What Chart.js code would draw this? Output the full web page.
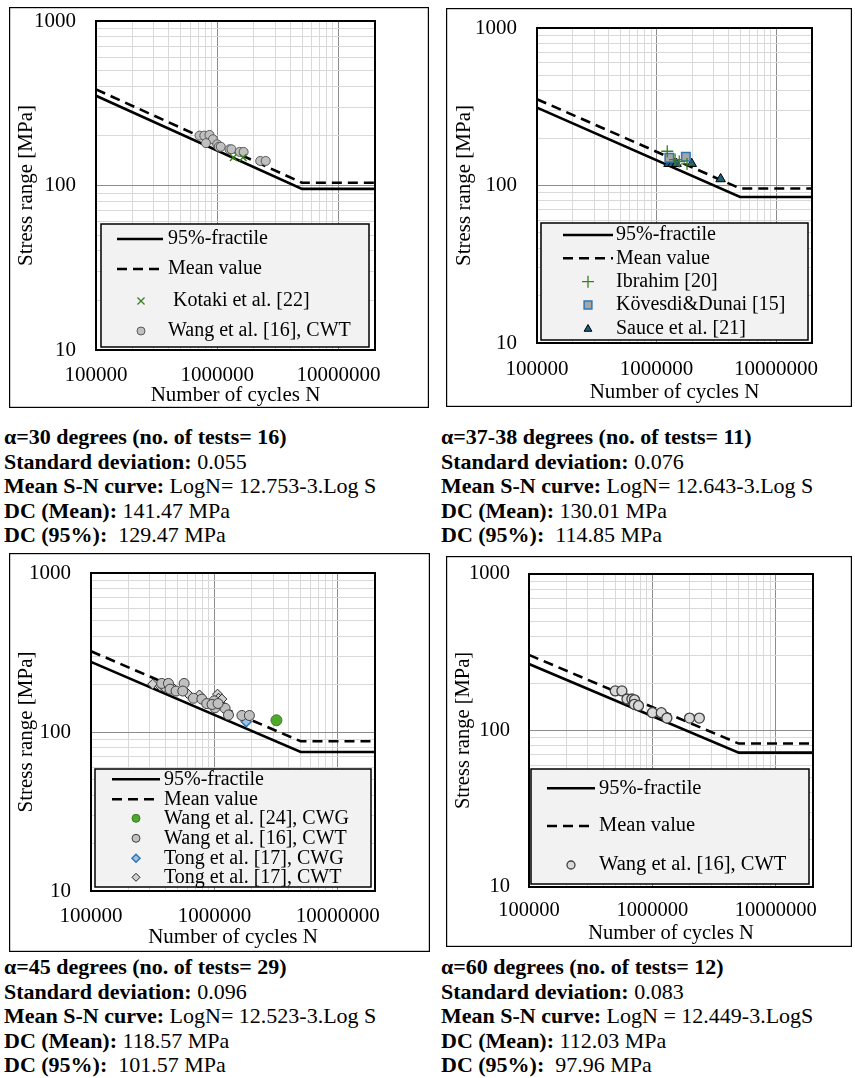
<!DOCTYPE html>
<html>
<head>
<meta charset="utf-8">
<script src="https://cdn.jsdelivr.net/npm/chart.js@4.4.1/dist/chart.umd.min.js"></script>
<style>
  body { margin:0; background:#fff; width:855px; height:1078px; position:relative; overflow:hidden; font-family:'Liberation Serif','Times New Roman',serif; }
  canvas { position:absolute; }
  .txt { position:absolute; font-size:22px; line-height:24.5px; color:#000; white-space:pre; }
</style>
</head>
<body>
<canvas id="c30" width="420" height="401" style="left:9px;top:7px"></canvas>
<canvas id="c37" width="406" height="399" style="left:446px;top:8px"></canvas>
<canvas id="c45" width="421" height="399" style="left:9px;top:553px"></canvas>
<canvas id="c60" width="406" height="391" style="left:446px;top:556px"></canvas>

<div class="txt" style="left:4px;top:425px"><b>α=30 degrees (no. of tests= 16)</b>
<b>Standard deviation:</b> 0.055
<b>Mean S-N curve:</b> LogN= 12.753-3.Log S
<b>DC (Mean):</b> 141.47 MPa
<b>DC (95%):</b>  129.47 MPa</div>

<div class="txt" style="left:441px;top:425px"><b>α=37-38 degrees (no. of tests= 11)</b>
<b>Standard deviation:</b> 0.076
<b>Mean S-N curve:</b> LogN= 12.643-3.Log S
<b>DC (Mean):</b> 130.01 MPa
<b>DC (95%):</b>  114.85 MPa</div>

<div class="txt" style="left:4px;top:955px"><b>α=45 degrees (no. of tests= 29)</b>
<b>Standard deviation:</b> 0.096
<b>Mean S-N curve:</b> LogN= 12.523-3.Log S
<b>DC (Mean):</b> 118.57 MPa
<b>DC (95%):</b>  101.57 MPa</div>

<div class="txt" style="left:441px;top:955px"><b>α=60 degrees (no. of tests= 12)</b>
<b>Standard deviation:</b> 0.083
<b>Mean S-N curve:</b> LogN = 12.449-3.LogS
<b>DC (Mean):</b> 112.03 MPa
<b>DC (95%):</b>  97.96 MPa</div>

<script>
// ---- data ----
const yTicks = [10, 20, 30, 40, 50, 60, 70, 80, 90, 100, 200, 300, 400, 500, 600, 700, 800, 900, 1000];
const xTicks = [100000, 200000, 300000, 400000, 500000, 600000, 700000, 800000, 900000,
                1000000, 2000000, 3000000, 4000000, 5000000, 6000000, 7000000, 8000000, 9000000,
                10000000, 20000000];

// S-N curves: start, knee (5e6), end
const lineN = [100000, 5000000, 20000000];

// alpha = 30
const a30Fractile = [351, 95.4, 95.4];
const a30Mean     = [384, 104, 104];
const a30KotakiN  = [1360000, 1630000];
const a30KotakiS  = [148, 148];
const a30WangN    = [714000, 782000, 863000, 921000, 807000, 1000000, 1030000, 1070000, 1260000, 1310000, 1530000, 1650000, 2260000, 2510000];
const a30WangS    = [201, 201, 203, 191, 181, 178, 172, 172, 166, 166, 160, 160, 141, 141];

// alpha = 37-38
const a37Fractile = [312, 84.6, 84.6];
const a37Mean     = [353, 95.8, 95.8];
const a37IbrahimN = [1230000, 1430000, 1550000, 1800000];
const a37IbrahimS = [165, 146, 142, 137];
const a37KovesdiN = [1280000, 1760000];
const a37KovesdiS = [150, 152];
const a37SauceN   = [1260000, 1360000, 1470000, 1970000, 3440000];
const a37SauceS   = [137.5, 137.5, 137.5, 137.5, 110];

// alpha = 45
const a45Fractile = [276, 74.8, 74.8];
const a45Mean     = [322, 87.4, 87.4];
const a45WangCwgN = [3180000];
const a45WangCwgS = [118.5];
const a45WangCwtN = [374000, 424000, 568000, 437000, 489000, 554000, 676000, 791000, 867000, 995000, 1010000, 1220000, 1300000, 1670000, 1920000, 957000, 1070000];
const a45WangCwtS = [202, 202, 202, 186, 181, 181, 163, 161, 151, 157, 142, 141, 128, 127, 127, 149, 151];
const a45TongCwgN = [1810000];
const a45TongCwgS = [116];
const a45TongCwtN = [316000, 363000, 391000, 465000, 604000, 756000, 1060000, 1080000, 1110000, 1150000];
const a45TongCwtS = [200, 194, 191, 188, 175, 171, 173, 163, 154, 161];

// alpha = 60
const a60Fractile = [266, 72.2, 72.2];
const a60Mean     = [304, 82.5, 82.5];
const a60WangN    = [500000, 566000, 622000, 682000, 716000, 713000, 771000, 1000000, 1180000, 1310000, 2000000, 2400000];
const a60WangS    = [179, 179, 159, 159, 157, 147, 144, 130, 130, 120, 120, 120];

// ---- helpers ----
Chart.defaults.font.family = "'Liberation Serif','Times New Roman',serif";
Chart.defaults.color = '#000';

const pts = (ns, ss) => ns.map((n, i) => ({ x: n, y: ss[i] }));
const isMajor = v => Math.abs(Math.log10(v) - Math.round(Math.log10(v))) < 1e-9;

function fractile(vals) {
  return { label: '95%-fractile', data: pts(lineN, vals), showLine: true, borderColor: '#000', borderWidth: 2.6, pointRadius: 0, order: 1 };
}
function mean(vals) {
  return { label: 'Mean value', data: pts(lineN, vals), showLine: true, borderColor: '#000', borderWidth: 2.6, borderDash: [10, 6], pointRadius: 0, order: 1 };
}
function marks(label, ns, ss, style) {
  return Object.assign({ label, data: pts(ns, ss), order: 0 }, style);
}

const boxLegend = {
  id: 'boxLegend',
  afterDatasetsDraw(chart, args, o) {
    const ctx = chart.ctx;
    const [x1, y1, x2, y2] = o.box;
    ctx.save();
    ctx.fillStyle = '#f2f2f2';
    ctx.fillRect(x1, y1, x2 - x1, y2 - y1);
    ctx.strokeStyle = '#000';
    ctx.lineWidth = 1.5;
    ctx.strokeRect(x1, y1, x2 - x1, y2 - y1);

    chart.data.datasets.forEach((ds, i) => {
      const y = o.rows[i];
      if (ds.showLine) {
        ctx.strokeStyle = ds.borderColor;
        ctx.lineWidth = ds.borderWidth;
        ctx.setLineDash(ds.borderDash || []);
        ctx.beginPath();
        ctx.moveTo(o.lineX[0], y);
        ctx.lineTo(o.lineX[1], y);
        ctx.stroke();
        ctx.setLineDash([]);
      } else {
        ctx.fillStyle = ds.backgroundColor;
        ctx.strokeStyle = ds.borderColor;
        ctx.lineWidth = ds.borderWidth;
        Chart.helpers.drawPoint(ctx, { pointStyle: ds.pointStyle, rotation: 0, radius: ds.legendRadius || ds.pointRadius, borderWidth: ds.borderWidth }, o.markerX, y);
      }
      ctx.fillStyle = '#000';
      ctx.font = `${o.fs}px 'Liberation Serif', serif`;
      ctx.textBaseline = 'middle';
      ctx.textAlign = 'left';
      ctx.fillText(ds.label, o.textX, y);
    });

    const a = chart.chartArea;
    ctx.strokeStyle = '#000';
    ctx.lineWidth = 2;
    ctx.strokeRect(a.left, a.top, a.right - a.left, a.bottom - a.top);
    ctx.lineWidth = 1.2;
    ctx.strokeRect(0.6, 0.6, chart.width - 1.2, chart.height - 1.2);
    ctx.restore();
  }
};

function gridColor(c) {
  return c.tick && isMajor(c.tick.value) ? '#8c8c8c' : '#d9d9d9';
}

function build(id, datasets, o) {
  new Chart(document.getElementById(id), {
    type: 'scatter',
    data: { datasets },
    options: {
      responsive: false,
      animation: false,
      devicePixelRatio: 1,
      layout: { padding: { left: 0, top: o.pt, right: o.pr, bottom: 0 } },
      plugins: { legend: { display: false }, tooltip: { enabled: false }, boxLegend: o.legend },
      scales: {
        x: {
          type: 'logarithmic', min: 100000, max: 20000000,
          afterBuildTicks: s => { s.ticks = xTicks.map(v => ({ value: v })); },
          afterFit: s => { s.height = o.xh; s.paddingLeft = 0; s.paddingRight = 0; },
          grid: { color: gridColor, lineWidth: 1, drawTicks: false },
          border: { display: false },
          ticks: { autoSkip: false, maxRotation: 0, padding: o.xpad, font: { size: o.fs }, callback: v => isMajor(v) ? String(v) : '' },
          title: { display: true, text: 'Number of cycles N', font: { size: o.fs }, padding: { top: 0, bottom: o.xtp } }
        },
        y: {
          type: 'logarithmic', min: 10, max: 1000,
          afterBuildTicks: s => { s.ticks = yTicks.map(v => ({ value: v })); },
          afterFit: s => { s.width = o.yw; s.paddingTop = 0; s.paddingBottom = 0; },
          grid: { color: gridColor, lineWidth: 1, drawTicks: false },
          border: { display: false },
          ticks: { autoSkip: false, padding: o.ypad, font: { size: o.fs }, callback: v => isMajor(v) ? String(v) : '' },
          title: { display: true, text: 'Stress range [MPa]', font: { size: o.fs }, padding: { top: o.ytp, bottom: 0 } }
        }
      }
    },
    plugins: [boxLegend]
  });
}

// ---- marker styles ----
const grayCircle = { pointStyle: 'circle', pointRadius: 4.5, backgroundColor: '#c0c0c0', borderColor: '#595959', borderWidth: 1 };

build('c30', [
  fractile(a30Fractile),
  mean(a30Mean),
  marks(' Kotaki et al. [22]', a30KotakiN, a30KotakiS, { pointStyle: 'crossRot', pointRadius: 5, backgroundColor: '#3c7d22', borderColor: '#3c7d22', borderWidth: 1.3 }),
  marks('Wang et al. [16], CWT', a30WangN, a30WangS, Object.assign({}, grayCircle, { legendRadius: 4 }))
], { pt: 14, pr: 54, yw: 87, xh: 58, xpad: 13, ypad: 20, xtp: 0, ytp: 5, fs: 21,
     legend: { box: [92, 217, 360, 340], rows: [232, 262, 294, 324], lineX: [108, 154], markerX: 132, textX: 159, fs: 20 } });

build('c37', [
  fractile(a37Fractile),
  mean(a37Mean),
  marks('Ibrahim [20]', a37IbrahimN, a37IbrahimS, { pointStyle: 'cross', pointRadius: 6, backgroundColor: '#3c7d22', borderColor: '#3c7d22', borderWidth: 1.3 }),
  marks('Kövesdi&Dunai [15]', a37KovesdiN, a37KovesdiS, { pointStyle: 'rect', pointRadius: 6, backgroundColor: '#a5a5a5', borderColor: '#2e75b6', borderWidth: 1.5, legendRadius: 5.5 }),
  marks('Sauce et al. [21]', a37SauceN, a37SauceS, { pointStyle: 'triangle', pointRadius: 5.5, backgroundColor: '#1d5f7a', borderColor: '#000', borderWidth: 1, legendRadius: 4.5 })
], { pt: 20, pr: 40, yw: 91, xh: 64, xpad: 14, ypad: 20, xtp: 2, ytp: 6, fs: 21,
     legend: { box: [95, 215, 362, 332], rows: [227, 250.3, 273.7, 297, 321], lineX: [117, 167], markerX: 142, textX: 170, fs: 20 } });

build('c45', [
  fractile(a45Fractile),
  mean(a45Mean),
  marks('Wang et al. [24], CWG', a45WangCwgN, a45WangCwgS, { pointStyle: 'circle', pointRadius: 5.5, backgroundColor: '#4ea72e', borderColor: '#3c7d22', borderWidth: 1, legendRadius: 4 }),
  marks('Wang et al. [16], CWT', a45WangCwtN, a45WangCwtS, { pointStyle: 'circle', pointRadius: 5, backgroundColor: '#c0c0c0', borderColor: '#404040', borderWidth: 1, legendRadius: 4 }),
  marks('Tong et al. [17], CWG', a45TongCwgN, a45TongCwgS, { pointStyle: 'rectRot', pointRadius: 5, backgroundColor: '#9dc3e6', borderColor: '#2e75b6', borderWidth: 1.5, legendRadius: 4 }),
  marks('Tong et al. [17], CWT', a45TongCwtN, a45TongCwtS, { pointStyle: 'rectRot', pointRadius: 5, backgroundColor: '#d0d0d0', borderColor: '#262626', borderWidth: 1, legendRadius: 4 })
], { pt: 20, pr: 55, yw: 82, xh: 61, xpad: 13, ypad: 20, xtp: 2, ytp: 5, fs: 21,
     legend: { box: [86, 216, 362, 334], rows: [226.3, 246.3, 265.3, 285.3, 305.3, 324.3], lineX: [103, 151], markerX: 127, textX: 155, fs: 20 } });

build('c60', [
  fractile(a60Fractile),
  mean(a60Mean),
  marks('Wang et al. [16], CWT', a60WangN, a60WangS, { pointStyle: 'circle', pointRadius: 5, backgroundColor: '#d9d9d9', borderColor: '#404040', borderWidth: 1.3, legendRadius: 4 })
], { pt: 18, pr: 39, yw: 83, xh: 60, xpad: 11, ypad: 19, xtp: 1, ytp: 5, fs: 20.5,
     legend: { box: [85, 213, 363, 328], rows: [232.3, 270, 309], lineX: [101, 149], markerX: 125, textX: 153, fs: 20.5 } });
</script>
</body>
</html>
